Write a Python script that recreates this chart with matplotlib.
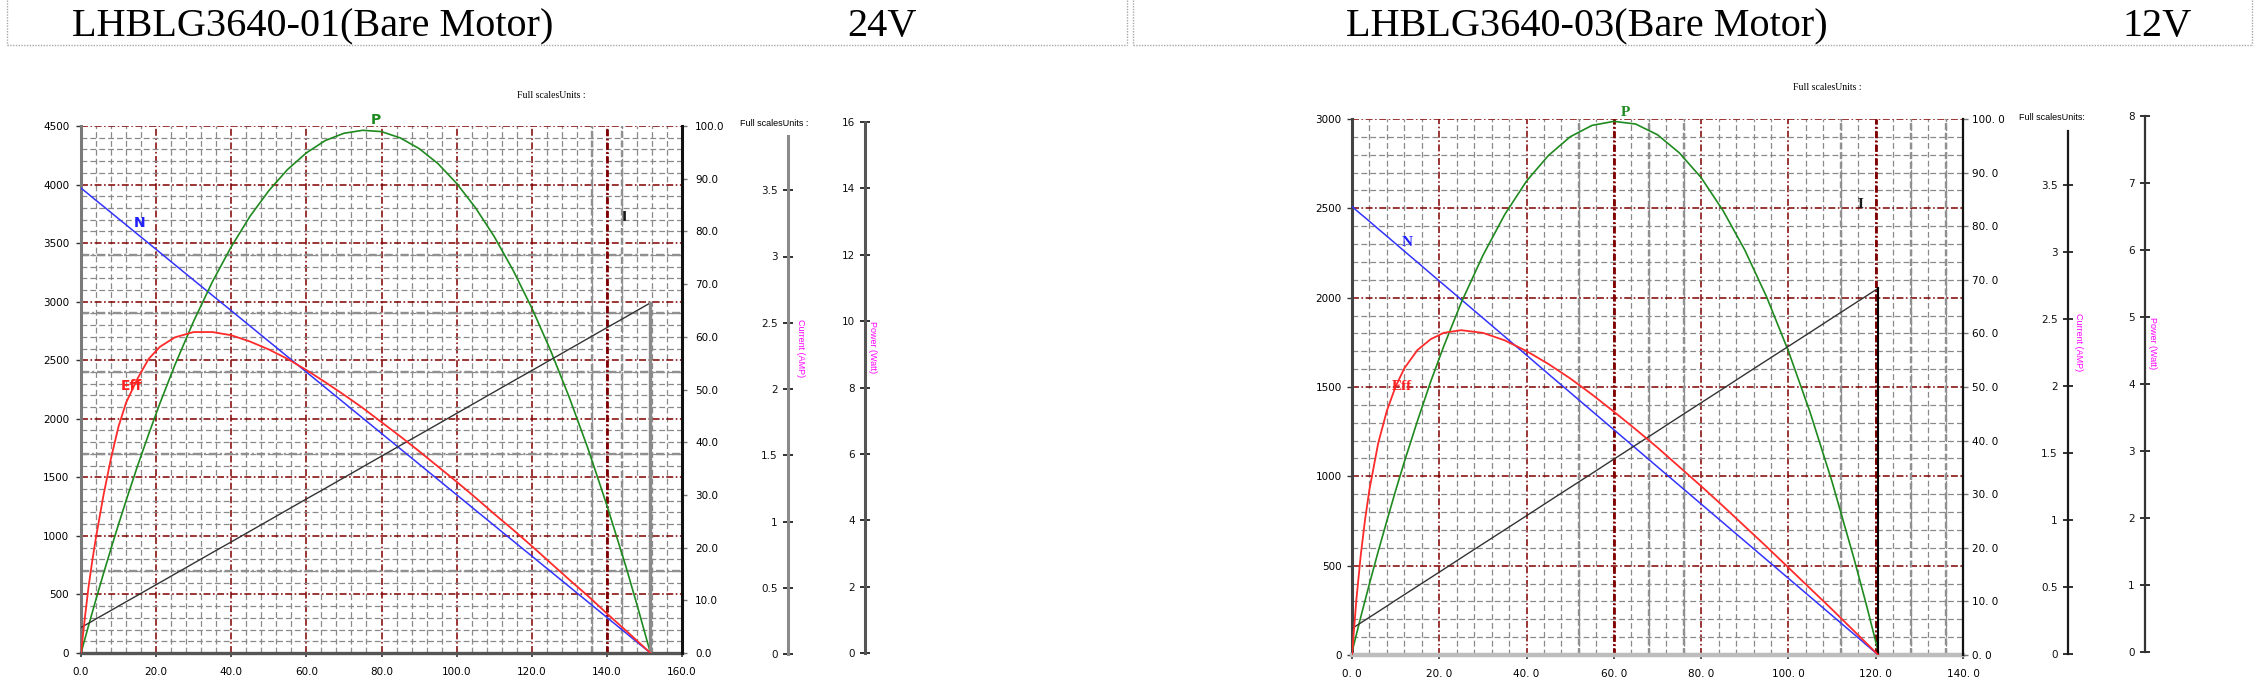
import matplotlib.pyplot as plt
from matplotlib.ticker import MultipleLocator, FixedLocator, FuncFormatter
from matplotlib.transforms import blended_transform_factory
from matplotlib.lines import Line2D

plt.rcParams['lines.scale_dashes'] = False
plt.rcParams['font.family'] = ['DejaVu Sans']

W, H = 2261, 693

# ---------------- data ----------------
titles = ['LHBLG3640-01(Bare Motor)', 'LHBLG3640-03(Bare Motor)']
voltages = ['24V', '12V']

# 24V motor: torque (x), speed N (rpm), efficiency (%), output power (W), current (A)
torque_a = [0, 1, 2, 3, 4, 6, 8, 10, 12, 15, 18, 21, 25, 30, 35, 40, 45, 50, 55, 60,
            65, 70, 75, 80, 85, 90, 95, 100, 105, 110, 115, 120, 125, 130, 135, 140,
            145, 148, 151.6]
speed_a = [3970, 3944, 3918, 3891, 3865, 3813, 3761, 3708, 3656, 3577, 3499, 3420, 3315,
           3184, 3053, 2923, 2792, 2661, 2530, 2399, 2268, 2137, 2006, 1875, 1744, 1613,
           1482, 1351, 1220, 1089, 958, 828, 697, 566, 435, 304, 173, 94, 0]
eff_a = [0, 6.5, 12.5, 17.5, 22.0, 30.0, 37.0, 43.0, 47.5, 52.0, 55.8, 58.1, 59.9, 60.9,
         60.9, 60.3, 59.1, 57.6, 55.8, 53.7, 51.4, 49.0, 46.5, 43.8, 41.1, 38.3, 35.4,
         32.5, 29.5, 26.4, 23.4, 20.3, 17.1, 13.9, 10.8, 7.5, 4.3, 2.35, 0]
power_a = [0, 0.41, 0.82, 1.22, 1.62, 2.40, 3.15, 3.88, 4.59, 5.62, 6.59, 7.52, 8.68, 10.00,
           11.19, 12.24, 13.16, 13.93, 14.57, 15.07, 15.44, 15.66, 15.75, 15.71, 15.52,
           15.20, 14.75, 14.15, 13.42, 12.55, 11.54, 10.40, 9.12, 7.70, 6.15, 4.45, 2.63,
           1.46, 0]
current_a = [0.20, 0.216, 0.232, 0.248, 0.265, 0.297, 0.329, 0.362, 0.394, 0.442, 0.491,
             0.539, 0.604, 0.685, 0.766, 0.846, 0.927, 1.008, 1.089, 1.170, 1.250, 1.331,
             1.412, 1.493, 1.574, 1.654, 1.735, 1.816, 1.897, 1.978, 2.059, 2.139, 2.220,
             2.301, 2.382, 2.463, 2.543, 2.592, 2.65]

# 12V motor
torque_b = [0, 1, 2, 3, 4, 6, 8, 10, 12, 15, 18, 21, 25, 30, 35, 40, 45, 50, 55, 60, 65,
            70, 75, 80, 85, 90, 95, 100, 105, 110, 115, 118, 120.6]
speed_b = [2510, 2489, 2468, 2448, 2427, 2385, 2344, 2302, 2260, 2198, 2135, 2073, 1990,
           1886, 1782, 1678, 1573, 1469, 1365, 1261, 1157, 1053, 949, 845, 741, 637, 533,
           429, 325, 221, 117, 54, 0]
eff_b = [0, 10.3, 18.6, 25.3, 30.9, 39.5, 45.6, 50.1, 53.5, 56.9, 58.9, 60.1, 60.6, 60.1,
         58.7, 56.7, 54.3, 51.6, 48.6, 45.4, 42.1, 38.7, 35.1, 31.5, 27.8, 24.0, 20.2, 16.3,
         12.4, 8.5, 4.5, 2.1, 0]
power_b = [0, 0.26, 0.52, 0.77, 1.02, 1.50, 1.96, 2.41, 2.84, 3.45, 4.03, 4.56, 5.21, 5.92,
           6.53, 7.03, 7.41, 7.69, 7.86, 7.92, 7.88, 7.72, 7.45, 7.08, 6.59, 6.00, 5.30,
           4.49, 3.57, 2.54, 1.40, 0.67, 0]
current_b = [0.19, 0.211, 0.232, 0.253, 0.274, 0.316, 0.358, 0.401, 0.443, 0.506, 0.569,
             0.632, 0.717, 0.822, 0.927, 1.032, 1.138, 1.243, 1.348, 1.454, 1.559, 1.664,
             1.770, 1.875, 1.980, 2.086, 2.191, 2.296, 2.401, 2.507, 2.612, 2.675, 2.73]

current_ticks = [0, 0.5, 1, 1.5, 2, 2.5, 3, 3.5]

# ---------------- helpers ----------------
fig = plt.figure(figsize=(W / 100, H / 100), dpi=100)


def box(x0, y0, x1, y1):
    return [x0 / W, 1 - y1 / H, (x1 - x0) / W, (y1 - y0) / H]


def fx(x):
    return x / W


def fy(y):
    return 1 - y / H


RED = '#800000'
GRAY = '#8a8a8a'
MAJOR_DASH = (0, (5, 1.8, 1.2, 1.8))
MINOR_DASH = (0, (4.2, 2.2))


def side_axis(x, y0, y1, top, bound, ticks, color, lw):
    a = fig.add_axes(box(x, y1, x + 1, y0))
    a.patch.set_visible(False)
    a.set_ylim(0, top)
    a.set_xticks([])
    for s in ['top', 'right', 'bottom']:
        a.spines[s].set_visible(False)
    a.spines['left'].set_color(color)
    a.spines['left'].set_linewidth(lw)
    a.spines['left'].set_bounds(0, bound)
    a.yaxis.set_major_locator(FixedLocator(ticks))
    a.yaxis.set_major_formatter(FuncFormatter(lambda v, p: f'{v:g}'))
    a.tick_params(axis='y', direction='inout', length=7, width=1.3, color='#222222',
                  pad=4, labelsize=7.5, labelcolor='#111111')
    return a


def panel(g, torque, speed, eff, power, current):
    ax = fig.add_axes(box(g['x0'], g['ytop'], g['x1'], g['ybot']))
    ax.patch.set_visible(False)
    ax.set_xlim(0, g['xmax'])
    ax.set_ylim(0, g['ymax'])
    ax.xaxis.set_major_locator(MultipleLocator(20))
    ax.xaxis.set_minor_locator(MultipleLocator(4))
    ax.yaxis.set_major_locator(MultipleLocator(500))
    ax.yaxis.set_minor_locator(MultipleLocator(100))
    ax.grid(which='minor', color=GRAY, lw=0.9, linestyle=MINOR_DASH)
    ax.grid(which='major', color=RED, lw=1.1, linestyle=MAJOR_DASH)
    ax.tick_params(which='minor', length=0)
    ax.tick_params(axis='y', which='major', direction='out', length=3.5, width=1,
                   color='#333333', pad=g['ypad'], labelsize=7.5)
    ax.tick_params(axis='x', which='major', direction='out', length=3, width=1.2,
                   color='#333333', pad=7, labelsize=7.5)
    ax.xaxis.set_major_formatter(FuncFormatter(g['xfmt']))
    ax.yaxis.set_major_formatter(FuncFormatter(lambda v, p: f'{v:.0f}'))

    # heavier grid lines as in the scanned original
    for v in g['heavy_x']:
        ax.axvline(v, color='#909090', lw=1.7, linestyle=(0, (5, 2)), zorder=1.6)
    for v in g['heavy_y']:
        ax.axhline(v, color='#909090', lw=1.7, linestyle=(0, (6, 2, 1.5, 2)), zorder=1.6)
    for v in g['heavy_red']:
        ax.axvline(v, color=RED, lw=2.0, linestyle=MAJOR_DASH, zorder=1.7)

    ax.spines['top'].set_visible(False)
    ax.spines['right'].set_visible(False)
    ax.spines['left'].set_color(g['lcol'])
    ax.spines['left'].set_linewidth(2.2)
    ax.spines['bottom'].set_color(g['bcol'])
    ax.spines['bottom'].set_linewidth(g['blw'])

    # efficiency axis 0-100
    axr = ax.twinx()
    axr.set_ylim(0, 100)
    axr.yaxis.set_major_locator(MultipleLocator(10))
    axr.yaxis.set_major_formatter(FuncFormatter(g['rfmt']))
    axr.tick_params(axis='y', direction='out', length=3.5, width=1, color='#777777',
                    pad=g['rpad'], labelsize=7.5)
    for s in ['top', 'left', 'bottom']:
        axr.spines[s].set_visible(False)
    axr.spines['right'].set_color('#111111')
    axr.spines['right'].set_linewidth(g['rlw'])

    # current and power scales
    ca = side_axis(g['cx'], g['c0'], g['c4'], 4, g['cbound'], current_ticks,
                   g['ccol'], g['clw'])
    pa = side_axis(g['px'], g['p0'], g['ptop'], g['pmax'], g['pmax'],
                   list(range(0, g['pmax'] + 1, g['pstep'])), g['pcol'], g['clw'])

    tr_p = blended_transform_factory(ax.transData, pa.transData)
    tr_i = blended_transform_factory(ax.transData, ca.transData)
    ax.plot(torque, speed, color='#3333ff', lw=1.1, zorder=3)
    axr.plot(torque, eff, color='#ff2a2a', lw=1.3, zorder=3)
    ax.plot(torque, power, color='#1f8a1f', lw=1.2, transform=tr_p, zorder=3)
    ax.plot(torque, current, color='#333333', lw=1.0, transform=tr_i, zorder=3)
    ax.plot([torque[-1], torque[-1]], [0, current[-1]], color=g['dropcol'],
            lw=g['droplw'], transform=tr_i, zorder=3)
    ax.set_xlim(0, g['xmax'])
    ax.set_ylim(0, g['ymax'])

    # curve labels
    lf = dict(family=g['lfam'], weight='bold', size=g['lsize'], ha='center', va='center')
    for txt, (x, y), col in zip(['N', 'P', 'Eff', 'I'], g['lpos'],
                                ['#2020ff', '#1f8a1f', '#ff2020', '#1a1a1a']):
        fig.text(fx(x), fy(y), txt, color=col, zorder=5, **lf)

    # scale captions
    fig.text(fx(g['fs1'][0]), fy(g['fs1'][1]), 'Full scalesUnits :', family='Liberation Serif',
             size=7, ha='left', va='center')
    fig.text(fx(g['fs2'][0]), fy(g['fs2'][1]), g['fs2txt'], family='Liberation Sans',
             size=6.5, ha='left', va='center')
    fig.text(fx(g['cl'][0]), fy(g['cl'][1]), 'Current (AMP)', color='#ff00ff', rotation=270,
             family='Liberation Sans', size=6.5, ha='center', va='center')
    fig.text(fx(g['pl'][0]), fy(g['pl'][1]), 'Power (Watt)', color='#ff00ff', rotation=270,
             family='Liberation Sans', size=6.5, ha='center', va='center')


left_cfg = dict(
    x0=81, x1=682, ytop=126, ybot=653, xmax=160, ymax=4500,
    xfmt=lambda v, p: f'{v:.1f}', rfmt=lambda v, p: f'{v:.1f}',
    ypad=5, rpad=6, lcol='#7a7a7a', bcol='#555555', blw=2.4, rlw=2.2,
    heavy_x=[136, 144], heavy_y=[3400, 2900, 2400, 1700, 700], heavy_red=[140],
    cx=788, c0=654, c4=124, cbound=3.91, ccol='#8a8a8a',
    px=865, p0=653, ptop=122, pmax=16, pstep=2, pcol='#555555', clw=2.2,
    dropcol='#8a8a8a', droplw=2.4,
    lfam='DejaVu Sans', lsize=10,
    lpos=[(140, 223), (376, 120), (132, 386), (624, 217)],
    fs1=(517, 95), fs2=(740, 123), fs2txt='Full scalesUnits :',
    cl=(801, 348), pl=(872, 347),
)

right_cfg = dict(
    x0=1352, x1=1963, ytop=119, ybot=655, xmax=140, ymax=3000,
    xfmt=lambda v, p: f'{v:.0f}. 0', rfmt=lambda v, p: f'{v:.0f}. 0',
    ypad=4, rpad=3, lcol='#444444', bcol='#bdbdbd', blw=3.2, rlw=1.6,
    heavy_x=[52, 68, 76, 112, 128, 136], heavy_y=[], heavy_red=[60, 120],
    cx=2068, c0=654, c4=118, cbound=3.9, ccol='#1a1a1a',
    px=2145, p0=652, ptop=116, pmax=8, pstep=1, pcol='#333333', clw=1.6,
    dropcol='#000000', droplw=1.5,
    lfam='Liberation Serif', lsize=11,
    lpos=[(1407, 243), (1625, 112), (1402, 387), (1860, 204)],
    fs1=(1793, 88), fs2=(2019, 117), fs2txt='Full scalesUnits:',
    cl=(2078, 342), pl=(2152, 343),
)

panel(left_cfg, torque_a, speed_a, eff_a, power_a, current_a)
panel(right_cfg, torque_b, speed_b, eff_b, power_b, current_b)

# header titles
tf = dict(family='Liberation Serif', size=29, va='baseline', ha='left', color='black')
for (tx, vx), t, v in zip([(72, 847), (1346, 2122)], titles, voltages):
    fig.text(fx(tx), fy(36), t, **tf)
    fig.text(fx(vx), fy(36), v, **tf)

# dotted header frames
dot = dict(color='#a8a8a8', lw=1, linestyle=(0, (1, 1)), transform=fig.transFigure)
for x0, x1 in [(7, 1127), (1133, 2252)]:
    fig.add_artist(Line2D([fx(x0), fx(x1)], [fy(45), fy(45)], **dot))
    fig.add_artist(Line2D([fx(x0), fx(x0)], [fy(0), fy(45)], **dot))
    fig.add_artist(Line2D([fx(x1), fx(x1)], [fy(0), fy(45)], **dot))

fig.savefig('out.png', dpi=100)
